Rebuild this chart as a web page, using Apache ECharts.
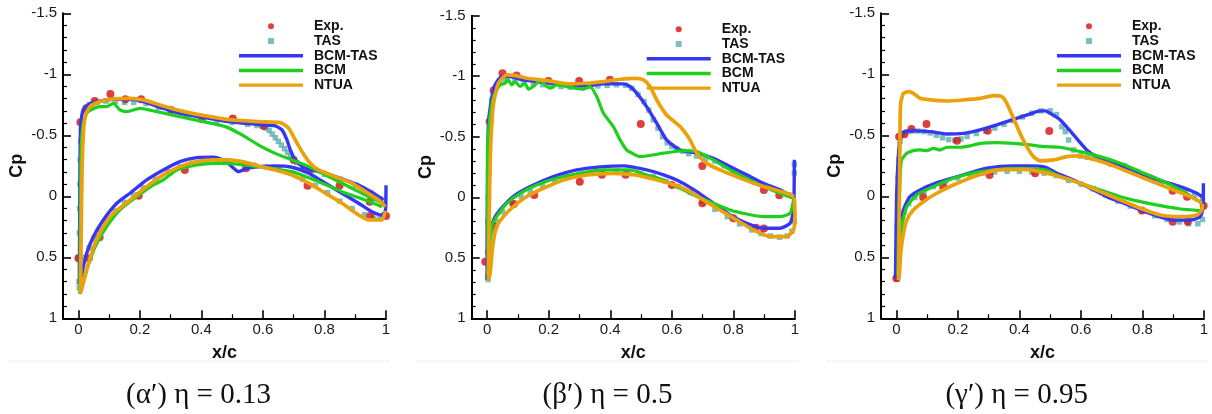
<!DOCTYPE html>
<html>
<head>
<meta charset="utf-8">
<script src="https://cdn.jsdelivr.net/npm/echarts@6/dist/echarts.min.js"></script>
<style>
  html, body { margin: 0; padding: 0; background: #fff; }
  #chart { width: 1212px; height: 414px; }
</style>
</head>
<body>
<div id="chart"></div>
<script>
// ---- data: points are [x/c, Cp] ----
const X_TICKS = [0, 0.2, 0.4, 0.6, 0.8, 1];
const X_MINOR_TICKS = [0.1, 0.3, 0.5, 0.7, 0.9];
const LEGEND_NAMES = ['Exp.', 'TAS', 'BCM-TAS', 'BCM', 'NTUA'];
const CAPTIONS = ['(α′) η = 0.13', '(β′) η = 0.5', '(γ′) η = 0.95'];

// (α') eta = 0.13
const A_EXP = [[0,0.508],[0.0065,-0.607],[0.026,-0.721],[0.053,-0.781],[0.104,-0.839],[0.153,-0.795],[0.204,-0.795],[0.301,-0.708],[0.402,-0.634],[0.502,-0.637],[0.602,-0.577],[0.70,-0.298],[0.751,-0.216],[0.849,-0.087],[0.947,0.044],[1.0,0.161],
  [0.034,0.508],[0.069,0.336],[0.196,-0.005],[0.346,-0.216],[0.545,-0.23],[0.745,-0.087],[0.949,0.161]];
const A_TAS = [[0.002,0.7],[0.002,0.5],[0.003,0.3],[0.004,0.1],[0.005,-0.1],[0.006,-0.3],[0.008,-0.45],[0.01,-0.55],[0.02,-0.7],[0.035,-0.75],[0.06,-0.77],[0.09,-0.78],[0.12,-0.78],[0.15,-0.77],[0.18,-0.77],[0.22,-0.76],[0.26,-0.73],[0.30,-0.70],[0.35,-0.67],[0.40,-0.64],[0.45,-0.62],[0.50,-0.605],[0.55,-0.59],[0.58,-0.58],[0.60,-0.575],[0.61,-0.56],[0.62,-0.54],[0.63,-0.51],[0.64,-0.48],[0.65,-0.45],[0.66,-0.42],[0.67,-0.39],[0.68,-0.36],[0.69,-0.33],[0.70,-0.30],[0.71,-0.275],[0.73,-0.24],[0.76,-0.21],[0.80,-0.18],[0.85,-0.14],[0.90,-0.09],[0.95,-0.03],[0.98,0.02],[0.995,0.06],
  [0.003,0.75],[0.01,0.62],[0.02,0.5],[0.035,0.42],[0.05,0.35],[0.07,0.27],[0.09,0.2],[0.12,0.12],[0.15,0.05],[0.18,-0.01],[0.21,-0.07],[0.25,-0.14],[0.29,-0.2],[0.33,-0.24],[0.37,-0.27],[0.41,-0.285],[0.45,-0.29],[0.49,-0.285],[0.53,-0.27],[0.57,-0.255],[0.61,-0.24],[0.65,-0.22],[0.69,-0.19],[0.73,-0.14],[0.77,-0.09],[0.81,-0.03],[0.85,0.04],[0.89,0.1],[0.93,0.15],[0.96,0.18],[0.98,0.18],[0.995,0.15]];
const A_BCMTAS_UP = [[0.003,0.72],[0.004,0.3],[0.005,-0.2],[0.006,-0.45],[0.008,-0.6],[0.016,-0.71],[0.038,-0.76],[0.07,-0.78],[0.114,-0.795],[0.168,-0.795],[0.211,-0.776],[0.276,-0.72],[0.33,-0.68],[0.406,-0.647],[0.488,-0.612],[0.597,-0.585],[0.64,-0.577],[0.662,-0.544],[0.678,-0.462],[0.689,-0.38],[0.705,-0.298],[0.732,-0.238],[0.803,-0.189],[0.857,-0.142],[0.911,-0.093],[0.954,-0.033],[0.992,0.03]];
const A_BCMTAS_LO = [[0.003,0.72],[0.011,0.63],[0.027,0.467],[0.049,0.33],[0.081,0.194],[0.125,0.057],[0.168,-0.025],[0.222,-0.134],[0.276,-0.216],[0.33,-0.284],[0.385,-0.317],[0.439,-0.32],[0.478,-0.29],[0.50,-0.24],[0.521,-0.202],[0.548,-0.23],[0.6,-0.245],[0.64,-0.249],[0.694,-0.238],[0.749,-0.189],[0.803,-0.107],[0.857,-0.025],[0.911,0.057],[0.954,0.126],[0.987,0.153],[0.998,0.12],[1.0,-0.09]];
const A_BCM_UP = [[0.005,0.8],[0.006,0.3],[0.008,-0.3],[0.014,-0.57],[0.027,-0.68],[0.049,-0.72],[0.07,-0.735],[0.092,-0.735],[0.114,-0.762],[0.135,-0.708],[0.157,-0.694],[0.2,-0.72],[0.255,-0.694],[0.33,-0.653],[0.406,-0.612],[0.478,-0.571],[0.532,-0.503],[0.586,-0.42],[0.64,-0.352],[0.694,-0.298],[0.749,-0.243],[0.803,-0.175],[0.857,-0.107],[0.911,-0.038],[0.954,0.016],[0.992,0.057]];
const A_BCM_LO = [[0.005,0.8],[0.016,0.686],[0.038,0.52],[0.06,0.385],[0.092,0.249],[0.135,0.112],[0.19,0.003],[0.244,-0.093],[0.276,-0.134],[0.32,-0.216],[0.385,-0.257],[0.439,-0.27],[0.482,-0.27],[0.586,-0.243],[0.694,-0.202],[0.781,-0.12],[0.857,-0.038],[0.933,0.03],[0.987,0.085]];
const A_NTUA_UP = [[0.007,0.795],[0.009,0.3],[0.012,-0.2],[0.016,-0.5],[0.022,-0.653],[0.038,-0.735],[0.07,-0.776],[0.114,-0.798],[0.168,-0.803],[0.211,-0.79],[0.276,-0.74],[0.33,-0.702],[0.395,-0.667],[0.482,-0.631],[0.586,-0.612],[0.657,-0.604],[0.684,-0.557],[0.705,-0.462],[0.727,-0.366],[0.754,-0.27],[0.781,-0.216],[0.835,-0.161],[0.889,-0.107],[0.933,-0.038],[0.976,0.03],[0.998,0.085]];
const A_NTUA_LO = [[0.007,0.795],[0.016,0.713],[0.033,0.55],[0.054,0.385],[0.081,0.249],[0.114,0.139],[0.168,0.03],[0.222,-0.079],[0.276,-0.175],[0.33,-0.243],[0.385,-0.284],[0.439,-0.298],[0.482,-0.298],[0.532,-0.284],[0.586,-0.249],[0.64,-0.216],[0.694,-0.175],[0.749,-0.107],[0.803,-0.025],[0.857,0.057],[0.911,0.153],[0.944,0.194],[0.987,0.194],[0.998,0.12]];

// (β') eta = 0.5
const B_EXP = [[-0.006,0.532],[0.008,-0.625],[0.021,-0.882],[0.05,-1.025],[0.096,-1.006],[0.199,-0.961],[0.299,-0.961],[0.399,-0.97],[0.499,-0.606],[0.699,-0.259],[0.899,-0.061],[0.949,-0.017],[1.002,0.014],
  [0.024,0.242],[0.087,0.055],[0.153,-0.019],[0.301,-0.129],[0.373,-0.185],[0.45,-0.185],[0.6,-0.102],[0.699,0.05],[0.8,0.174],[0.873,0.251],[0.899,0.259]];
const B_TAS = [[0.002,0.65],[0.002,0.45],[0.003,0.2],[0.004,0.0],[0.005,-0.2],[0.006,-0.35],[0.008,-0.5],[0.01,-0.65],[0.015,-0.8],[0.025,-0.9],[0.04,-0.96],[0.06,-0.97],[0.09,-0.96],[0.12,-0.95],[0.15,-0.94],[0.18,-0.93],[0.21,-0.92],[0.24,-0.915],[0.27,-0.91],[0.30,-0.91],[0.33,-0.915],[0.36,-0.92],[0.39,-0.925],[0.42,-0.93],[0.45,-0.925],[0.47,-0.9],[0.49,-0.85],[0.51,-0.79],[0.525,-0.72],[0.54,-0.64],[0.555,-0.57],[0.57,-0.5],[0.585,-0.45],[0.60,-0.42],[0.615,-0.4],[0.635,-0.38],[0.655,-0.36],[0.68,-0.34],[0.71,-0.32],[0.74,-0.3],[0.77,-0.26],[0.80,-0.22],[0.83,-0.18],[0.86,-0.14],[0.89,-0.11],[0.92,-0.08],[0.95,-0.05],[0.98,-0.02],[0.998,-0.27],[0.998,-0.2],
  [0.003,0.68],[0.008,0.45],[0.015,0.3],[0.03,0.2],[0.05,0.12],[0.08,0.05],[0.11,-0.01],[0.14,-0.05],[0.18,-0.1],[0.22,-0.14],[0.26,-0.17],[0.30,-0.19],[0.34,-0.205],[0.38,-0.215],[0.42,-0.215],[0.46,-0.21],[0.50,-0.19],[0.54,-0.17],[0.58,-0.13],[0.62,-0.09],[0.66,-0.04],[0.70,0.03],[0.74,0.1],[0.78,0.16],[0.82,0.22],[0.86,0.27],[0.89,0.3],[0.92,0.32],[0.95,0.33],[0.975,0.32],[0.99,0.28],[0.998,0.2]];
const B_BCMTAS_UP = [[0.0,0.683],[0.0,0.3],[0.001,-0.033],[0.004,-0.584],[0.012,-0.777],[0.026,-0.928],[0.048,-0.997],[0.075,-0.997],[0.107,-0.975],[0.161,-0.956],[0.215,-0.942],[0.269,-0.928],[0.324,-0.92],[0.378,-0.937],[0.443,-0.937],[0.464,-0.915],[0.486,-0.86],[0.518,-0.749],[0.551,-0.612],[0.583,-0.474],[0.627,-0.391],[0.681,-0.364],[0.735,-0.322],[0.789,-0.253],[0.843,-0.185],[0.897,-0.116],[0.951,-0.061],[0.989,-0.006]];
const B_BCMTAS_LO = [[0.0,0.683],[0.005,0.5],[0.01,0.298],[0.021,0.187],[0.042,0.105],[0.085,-0.006],[0.14,-0.088],[0.215,-0.171],[0.291,-0.226],[0.378,-0.253],[0.443,-0.259],[0.518,-0.226],[0.573,-0.185],[0.627,-0.129],[0.681,-0.047],[0.735,0.05],[0.789,0.146],[0.843,0.215],[0.897,0.256],[0.951,0.256],[0.984,0.215],[0.995,0.105],[0.997,-0.02],[0.998,-0.309]];
const B_BCM_UP = [[0.002,0.65],[0.001,-0.309],[0.008,-0.639],[0.021,-0.832],[0.042,-0.928],[0.058,-0.942],[0.069,-0.97],[0.08,-0.928],[0.091,-0.956],[0.107,-0.915],[0.123,-0.942],[0.134,-0.893],[0.15,-0.915],[0.172,-0.964],[0.194,-0.915],[0.205,-0.901],[0.226,-0.928],[0.269,-0.909],[0.313,-0.893],[0.334,-0.915],[0.356,-0.832],[0.378,-0.694],[0.41,-0.584],[0.432,-0.474],[0.453,-0.391],[0.481,-0.35],[0.497,-0.336],[0.573,-0.364],[0.637,-0.386],[0.681,-0.377],[0.735,-0.309],[0.789,-0.226],[0.843,-0.157],[0.897,-0.088],[0.951,-0.033],[0.995,0.008]];
const B_BCM_LO = [[0.002,0.65],[0.004,0.518],[0.015,0.242],[0.031,0.16],[0.064,0.05],[0.107,-0.033],[0.161,-0.102],[0.226,-0.157],[0.302,-0.198],[0.378,-0.226],[0.464,-0.226],[0.518,-0.185],[0.573,-0.143],[0.627,-0.074],[0.681,-0.006],[0.735,0.05],[0.789,0.105],[0.843,0.138],[0.897,0.16],[0.951,0.16],[0.984,0.132],[0.995,0.022]];
const B_NTUA_UP = [[0.004,0.683],[0.008,-0.033],[0.012,-0.446],[0.021,-0.777],[0.037,-0.942],[0.064,-1.011],[0.096,-1.003],[0.129,-0.983],[0.172,-0.97],[0.215,-0.956],[0.269,-0.937],[0.324,-0.942],[0.378,-0.956],[0.432,-0.975],[0.481,-0.983],[0.508,-0.97],[0.529,-0.915],[0.551,-0.804],[0.583,-0.68],[0.627,-0.584],[0.659,-0.474],[0.681,-0.364],[0.713,-0.281],[0.756,-0.226],[0.81,-0.171],[0.865,-0.116],[0.919,-0.074],[0.973,-0.033],[0.997,-0.006]];
const B_NTUA_LO = [[0.004,0.683],[0.01,0.628],[0.018,0.408],[0.031,0.242],[0.053,0.16],[0.085,0.077],[0.129,-0.006],[0.183,-0.074],[0.248,-0.143],[0.324,-0.185],[0.41,-0.198],[0.481,-0.185],[0.529,-0.157],[0.594,-0.116],[0.648,-0.061],[0.702,0.022],[0.756,0.105],[0.81,0.187],[0.865,0.27],[0.919,0.325],[0.973,0.325],[0.995,0.27],[1.0,0.16],[0.998,0.0]];

// (γ') eta = 0.95
const C_EXP = [[0,0.672],[0.009,-0.489],[0.026,-0.508],[0.049,-0.552],[0.098,-0.593],[0.197,-0.456],[0.297,-0.538],[0.497,-0.536],[0.697,-0.276],[0.898,-0.046],[0.945,0.003],[0.999,0.077],
  [0.087,0.008],[0.152,-0.079],[0.303,-0.175],[0.451,-0.189],[0.798,0.117],[0.898,0.208],[0.947,0.208]];
const C_TAS = [[0.002,0.68],[0.002,0.45],[0.003,0.25],[0.004,0.05],[0.006,-0.15],[0.008,-0.3],[0.012,-0.45],[0.02,-0.51],[0.035,-0.53],[0.05,-0.535],[0.07,-0.535],[0.09,-0.53],[0.11,-0.52],[0.13,-0.5],[0.15,-0.48],[0.17,-0.465],[0.19,-0.46],[0.21,-0.47],[0.23,-0.49],[0.26,-0.515],[0.29,-0.535],[0.32,-0.56],[0.35,-0.59],[0.38,-0.62],[0.41,-0.65],[0.44,-0.68],[0.47,-0.7],[0.50,-0.7],[0.52,-0.67],[0.538,-0.571],[0.549,-0.53],[0.56,-0.462],[0.576,-0.38],[0.598,-0.33],[0.62,-0.32],[0.64,-0.315],[0.67,-0.3],[0.70,-0.28],[0.74,-0.25],[0.78,-0.2],[0.82,-0.16],[0.86,-0.12],[0.90,-0.08],[0.94,-0.04],[0.97,-0.01],[0.995,0.02],
  [0.003,0.65],[0.008,0.45],[0.015,0.25],[0.025,0.13],[0.04,0.06],[0.06,0.01],[0.09,-0.04],[0.12,-0.08],[0.16,-0.12],[0.20,-0.15],[0.24,-0.17],[0.28,-0.19],[0.32,-0.2],[0.36,-0.205],[0.40,-0.205],[0.44,-0.2],[0.48,-0.19],[0.52,-0.17],[0.56,-0.13],[0.60,-0.1],[0.64,-0.06],[0.68,-0.01],[0.72,0.04],[0.76,0.08],[0.80,0.12],[0.84,0.16],[0.88,0.19],[0.92,0.21],[0.95,0.225],[0.98,0.225],[0.995,0.19]];
const C_BCMTAS_UP = [[-0.003,0.672],[0.001,-0.025],[0.007,-0.352],[0.014,-0.503],[0.028,-0.53],[0.055,-0.536],[0.11,-0.53],[0.164,-0.511],[0.218,-0.516],[0.272,-0.544],[0.326,-0.585],[0.381,-0.631],[0.435,-0.675],[0.467,-0.7],[0.485,-0.7],[0.5,-0.68],[0.533,-0.626],[0.576,-0.503],[0.619,-0.38],[0.663,-0.311],[0.706,-0.27],[0.76,-0.216],[0.815,-0.161],[0.869,-0.12],[0.923,-0.079],[0.977,-0.025],[0.993,0.003]];
const C_BCMTAS_LO = [[-0.003,0.672],[0.007,0.303],[0.023,0.112],[0.044,0.003],[0.088,-0.066],[0.142,-0.12],[0.218,-0.175],[0.294,-0.23],[0.381,-0.249],[0.435,-0.249],[0.484,-0.238],[0.522,-0.189],[0.576,-0.134],[0.63,-0.066],[0.684,0.003],[0.739,0.057],[0.793,0.112],[0.847,0.161],[0.901,0.194],[0.956,0.194],[0.988,0.167],[0.997,0.085],[0.998,-0.106]];
const C_BCM_UP = [[0.005,0.65],[0.007,0.249],[0.012,-0.161],[0.017,-0.298],[0.034,-0.352],[0.055,-0.374],[0.077,-0.38],[0.099,-0.374],[0.12,-0.393],[0.142,-0.38],[0.164,-0.402],[0.207,-0.402],[0.24,-0.413],[0.272,-0.434],[0.326,-0.44],[0.381,-0.434],[0.435,-0.421],[0.484,-0.407],[0.533,-0.402],[0.598,-0.366],[0.663,-0.325],[0.728,-0.27],[0.793,-0.202],[0.858,-0.134],[0.923,-0.052],[0.977,0.03],[0.993,0.057]];
const C_BCM_LO = [[0.005,0.65],[0.007,0.577],[0.017,0.249],[0.034,0.085],[0.066,-0.011],[0.12,-0.079],[0.185,-0.148],[0.272,-0.202],[0.381,-0.23],[0.484,-0.216],[0.533,-0.161],[0.598,-0.107],[0.663,-0.052],[0.728,0.003],[0.793,0.044],[0.858,0.077],[0.923,0.104],[0.988,0.117]];
const C_NTUA_UP = [[0.007,0.686],[0.01,-0.025],[0.012,-0.571],[0.014,-0.762],[0.023,-0.844],[0.039,-0.858],[0.055,-0.844],[0.077,-0.803],[0.11,-0.79],[0.164,-0.781],[0.218,-0.79],[0.272,-0.803],[0.316,-0.825],[0.343,-0.817],[0.359,-0.762],[0.381,-0.639],[0.402,-0.516],[0.424,-0.407],[0.446,-0.325],[0.467,-0.291],[0.511,-0.298],[0.554,-0.325],[0.587,-0.331],[0.63,-0.311],[0.684,-0.27],[0.739,-0.216],[0.793,-0.161],[0.847,-0.107],[0.901,-0.052],[0.956,0.003],[0.993,0.057]];
const C_NTUA_LO = [[0.007,0.686],[0.01,0.63],[0.014,0.467],[0.023,0.303],[0.034,0.194],[0.055,0.112],[0.088,0.044],[0.131,-0.025],[0.185,-0.093],[0.251,-0.161],[0.326,-0.216],[0.413,-0.221],[0.467,-0.202],[0.533,-0.161],[0.598,-0.107],[0.663,-0.038],[0.728,0.03],[0.793,0.098],[0.858,0.153],[0.923,0.167],[0.977,0.153],[0.993,0.112],[0.995,0.06]];

const PANEL_DATA = [
  { exp: A_EXP, tas: A_TAS, bcmtas: [A_BCMTAS_UP, A_BCMTAS_LO], bcm: [A_BCM_UP, A_BCM_LO], ntua: [A_NTUA_UP, A_NTUA_LO] },
  { exp: B_EXP, tas: B_TAS, bcmtas: [B_BCMTAS_UP, B_BCMTAS_LO], bcm: [B_BCM_UP, B_BCM_LO], ntua: [B_NTUA_UP, B_NTUA_LO] },
  { exp: C_EXP, tas: C_TAS, bcmtas: [C_BCMTAS_UP, C_BCMTAS_LO], bcm: [C_BCM_UP, C_BCM_LO], ntua: [C_NTUA_UP, C_NTUA_LO] },
];

// ---- layout ----
const LAYOUT = [
  { grid: { left: 63, top: 13.3, width: 323, height: 305 }, legend: { left: 239, top: 19 }, caption: 198.5 },
  { grid: { left: 471.7, top: 15.7, width: 323.3, height: 302.6 }, legend: { left: 646.7, top: 22 }, caption: 607.5 },
  { grid: { left: 881, top: 13.3, width: 323, height: 305 }, legend: { left: 1057, top: 19 }, caption: 1016.7 },
];

const RED = '#d40f0f';
const TEAL = '#5eafad';
const BLUE = '#3636f4';
const GREEN = '#1ecf1e';
const ORANGE = '#e9a10c';
const AXIS = '#000';
const SANS = 'Liberation Sans';

// upper surface TE -> LE, then lower surface LE -> TE
function loop(pair) {
  return pair[0].slice().reverse().concat(pair[1]);
}

const LINE_ICON = 'path://M0 0H64V3.4H0Z';
const SQUARE_ICON = 'path://M0 0H1V1H0Z';

const grid = [], xAxis = [], yAxis = [], legend = [], series = [], graphic = [];

LAYOUT.forEach((L, i) => {
  const d = PANEL_DATA[i];
  grid.push(Object.assign({ outerBoundsMode: 'none', containLabel: false }, L.grid));

  xAxis.push({
    gridIndex: i, type: 'value', min: -0.05, max: 1, position: 'bottom',
    axisLine: { show: true, onZero: false, lineStyle: { color: AXIS, width: 2 } },
    axisTick: { show: true, inside: true, length: 8, customValues: X_TICKS, lineStyle: { color: AXIS, width: 1.6 } },
    axisLabel: { customValues: X_TICKS, margin: 4, fontSize: 15, fontFamily: SANS, color: '#1a1a1a' },
    splitLine: { show: false },
    name: 'x/c', nameLocation: 'middle', nameGap: 26,
    nameTextStyle: { fontSize: 18, fontWeight: 'bold', fontFamily: SANS, color: '#111' },
  });
  // minor ticks at 0.1 spacing
  xAxis.push({
    gridIndex: i, type: 'value', min: -0.05, max: 1, position: 'bottom',
    axisLine: { show: false, onZero: false },
    axisTick: { show: true, inside: true, length: 4, customValues: X_MINOR_TICKS, lineStyle: { color: AXIS, width: 1.2 } },
    axisLabel: { show: false },
    splitLine: { show: false },
  });

  yAxis.push({
    gridIndex: i, type: 'value', inverse: true, min: -1.5, max: 1, interval: 0.5,
    axisLine: { show: true, onZero: false, lineStyle: { color: AXIS, width: 2 } },
    axisTick: { show: true, inside: true, length: 8, lineStyle: { color: AXIS, width: 1.6 } },
    minorTick: { show: true, splitNumber: 5, length: 4, lineStyle: { color: AXIS, width: 1.2 } },
    axisLabel: { margin: 6, fontSize: 15, fontFamily: SANS, color: '#1a1a1a' },
    splitLine: { show: false },
    name: 'Cp', nameLocation: 'middle', nameGap: 37, nameRotate: 90,
    nameTextStyle: { fontSize: 18, fontWeight: 'bold', fontFamily: SANS, color: '#111' },
  });

  legend.push({
    left: L.legend.left, top: L.legend.top, orient: 'vertical', padding: 0,
    itemWidth: 64, itemHeight: 6, itemGap: 0, selectedMode: false, symbolKeepAspect: true,
    itemStyle: { borderWidth: 0 },
    textStyle: { fontSize: 14, fontWeight: 'bold', fontFamily: SANS, color: '#111', lineHeight: 14.7, padding: [0, 0, 0, 6] },
    data: [
      { name: 'Exp.', icon: 'circle' },
      { name: 'TAS', icon: SQUARE_ICON },
      { name: 'BCM-TAS', icon: LINE_ICON },
      { name: 'BCM', icon: LINE_ICON },
      { name: 'NTUA', icon: LINE_ICON },
    ],
  });

  const common = { xAxisIndex: 2 * i, yAxisIndex: i, silent: true };
  series.push(Object.assign({ name: 'TAS', type: 'scatter', data: d.tas, symbol: 'rect', symbolSize: 5.5, itemStyle: { color: TEAL }, z: 2 }, common));
  series.push(Object.assign({ name: 'Exp.', type: 'scatter', data: d.exp, symbol: 'circle', symbolSize: 8, itemStyle: { color: RED }, z: 3 }, common));
  const lines = [['BCM-TAS', d.bcmtas, BLUE, 3.4], ['BCM', d.bcm, GREEN, 3.2], ['NTUA', d.ntua, ORANGE, 3.7]];
  lines.forEach(([name, pair, color, width]) => {
    series.push(Object.assign({
      name, type: 'line', data: loop(pair), showSymbol: false, symbol: 'none', smooth: 0.2,
      lineStyle: { color, width }, itemStyle: { color }, z: 4,
    }, common));
  });

  graphic.push({
    type: 'text', x: L.caption, y: 395,
    style: { text: CAPTIONS[i], x: 0, y: 0, align: 'center', verticalAlign: 'middle', fill: '#111', font: '29px "Liberation Serif"' },
  });
  graphic.push({
    type: 'line', shape: { x1: L.grid.left - 55, y1: 361, x2: L.grid.left + L.grid.width + 4, y2: 361 },
    style: { stroke: '#eeeeee', lineWidth: 1 },
  });
});

const chart = echarts.init(document.getElementById('chart'), null, { renderer: 'canvas' });
chart.setOption({
  animation: false,
  backgroundColor: '#fff',
  grid, xAxis, yAxis, legend, series, graphic,
});
</script>
</body>
</html>
